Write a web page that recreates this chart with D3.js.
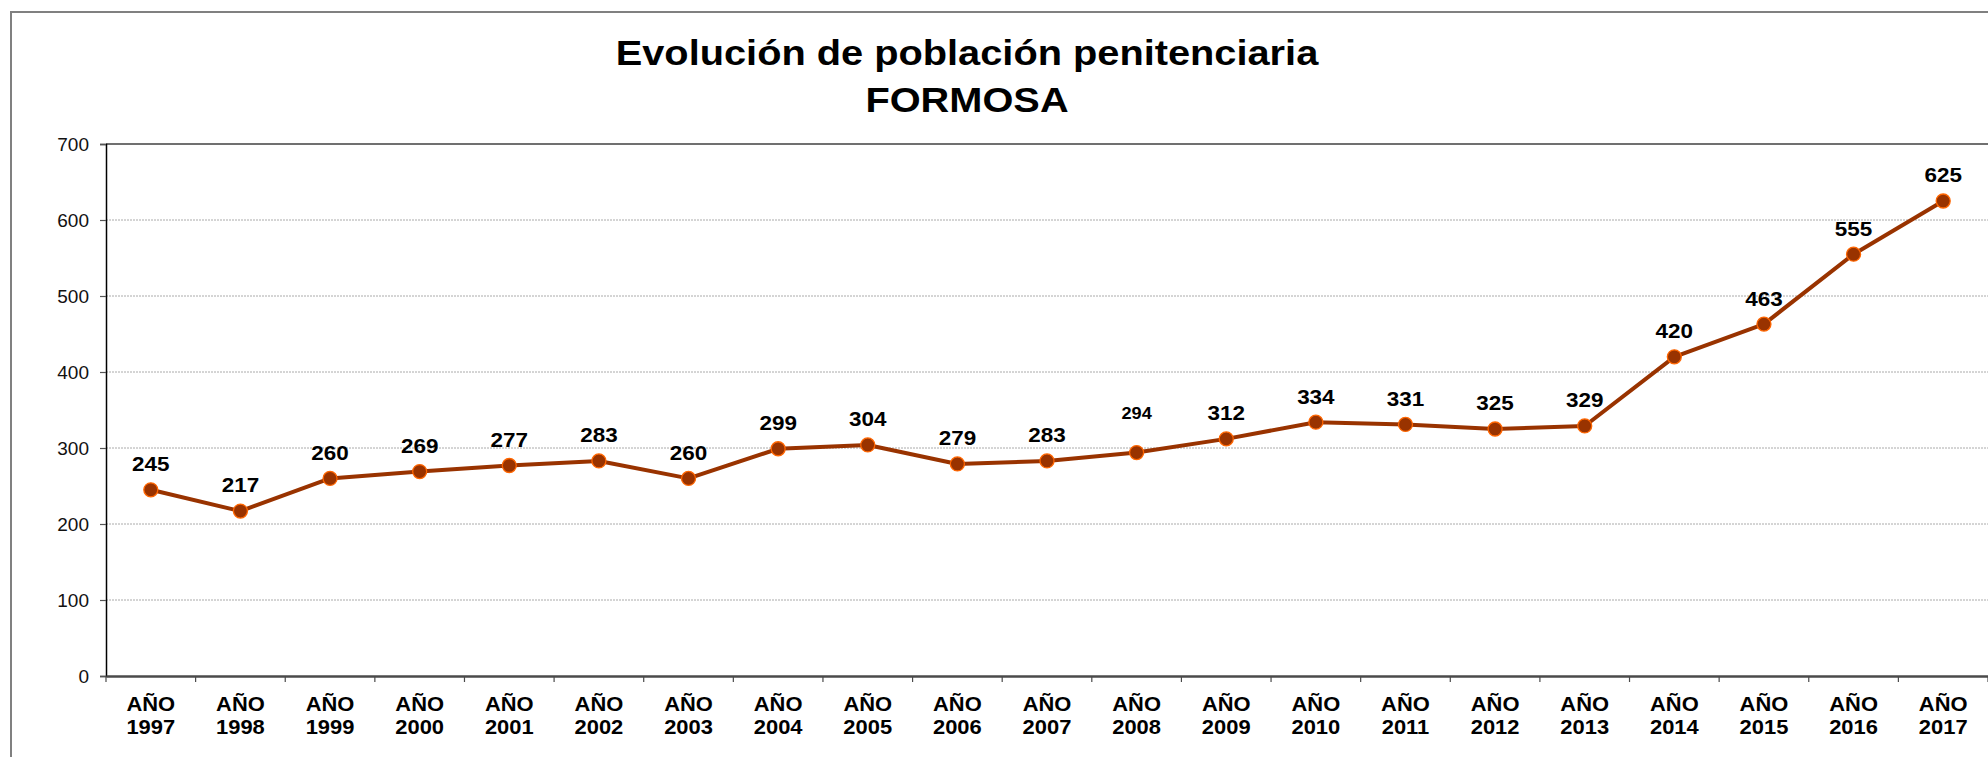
<!DOCTYPE html>
<html>
<head>
<meta charset="utf-8">
<script src="https://cdn.jsdelivr.net/npm/d3@7/dist/d3.min.js"></script>
<style>
  html, body { margin: 0; padding: 0; background: #ffffff; }
  svg { display: block; }
  text { font-family: "Liberation Sans", Arial, Helvetica, sans-serif; }
</style>
</head>
<body>
<svg id="chart" width="1988" height="757"></svg>
<script>
// Prison population, Formosa province, 1997-2017
const years = ["1997","1998","1999","2000","2001","2002","2003","2004","2005","2006","2007",
               "2008","2009","2010","2011","2012","2013","2014","2015","2016","2017"];
const population = [245, 217, 260, 269, 277, 283, 260, 299, 304, 279, 283,
                    294, 312, 334, 331, 325, 329, 420, 463, 555, 625];
const yTicks = [0, 100, 200, 300, 400, 500, 600, 700];
const titleLines = ["Evolución de población penitenciaria", "FORMOSA"];
const yearPrefix = "AÑO";

const svg = d3.select("#chart");
const W = 1988, H = 757;
const plot = { left: 106, right: 1988, top: 144, bottom: 676 };

// bold text in this chart is drawn slightly wide
const wide = (sel, px, py, sx) =>
  sel.attr("transform", (d, i) => `translate(${px(d, i)},${py(d, i)}) scale(${sx},1)`);

// outer chart frame
svg.append("rect")
  .attr("x", 11).attr("y", 12)
  .attr("width", W + 20).attr("height", H + 20)
  .attr("fill", "#ffffff")
  .attr("stroke", "#808080").attr("stroke-width", 2);

// title
svg.append("g").selectAll("text")
  .data(titleLines)
  .join("text")
  .attr("text-anchor", "middle")
  .attr("font-size", 35.5).attr("font-weight", "bold").attr("fill", "#000")
  .call(wide, () => 967, (d, i) => 65 + i * 47, 1.12)
  .text(d => d);

const x = d3.scaleBand().domain(years).range([plot.left, plot.right]).padding(0);
const y = d3.scaleLinear().domain([0, 700]).range([plot.bottom, plot.top]);

// horizontal gridlines
svg.append("g").selectAll("line")
  .data(yTicks.filter(t => t > 0 && t < 700))
  .join("line")
  .attr("x1", plot.left).attr("x2", plot.right + 5)
  .attr("y1", d => y(d)).attr("y2", d => y(d))
  .attr("stroke", "#aaaaaa").attr("stroke-width", 1)
  .attr("stroke-dasharray", "2,1");

// plot area top border
svg.append("line")
  .attr("x1", plot.left).attr("x2", plot.right + 5)
  .attr("y1", y(700)).attr("y2", y(700))
  .attr("stroke", "#707070").attr("stroke-width", 2);

// y axis
const yAxis = svg.append("g")
  .attr("transform", `translate(${plot.left},0)`)
  .call(d3.axisLeft(y).tickValues(yTicks).tickSize(6).tickPadding(11));
yAxis.select(".domain").attr("stroke", "#000").attr("stroke-width", 1.5);
yAxis.selectAll(".tick line").attr("stroke", "#555").attr("stroke-width", 1.2);
yAxis.selectAll(".tick text")
  .attr("font-size", 19).attr("fill", "#111")
  .attr("font-family", "'Liberation Sans', Arial, sans-serif");

// x axis
const xAxis = svg.append("g")
  .attr("transform", `translate(0,${plot.bottom})`)
  .call(d3.axisBottom(x).tickSize(0).tickFormat(""));
xAxis.select(".domain").attr("stroke", "#4a4a4a").attr("stroke-width", 2.5);
xAxis.selectAll(".tick text").remove();

// x tick marks on category boundaries
const bounds = years.map(d => x(d)).concat([x(years[years.length - 1]) + x.bandwidth()]);
svg.append("g").selectAll("line")
  .data(bounds)
  .join("line")
  .attr("x1", d => d).attr("x2", d => d)
  .attr("y1", plot.bottom).attr("y2", plot.bottom + 6)
  .attr("stroke", "#4a4a4a").attr("stroke-width", 1.2);

// x category labels (two lines)
const xl = svg.append("g").selectAll("g")
  .data(years)
  .join("text")
  .attr("text-anchor", "middle")
  .attr("font-size", 20.5).attr("font-weight", "bold").attr("fill", "#000")
  .call(wide, d => x(d) + x.bandwidth() / 2, () => 711, 1.07);
xl.append("tspan").attr("x", 0).attr("y", 0).text(yearPrefix);
xl.append("tspan").attr("x", 0).attr("y", 23).text(d => d);

const series = years.map((yr, i) => ({ yr, v: population[i] }));
const cx = d => x(d.yr) + x.bandwidth() / 2;

// line
svg.append("path")
  .datum(series)
  .attr("fill", "none")
  .attr("stroke", "#993300").attr("stroke-width", 4)
  .attr("stroke-linejoin", "round")
  .attr("d", d3.line().x(cx).y(d => y(d.v)));

// markers
svg.append("g").selectAll("circle")
  .data(series)
  .join("circle")
  .attr("cx", cx).attr("cy", d => y(d.v))
  .attr("r", 7)
  .attr("fill", "#993300")
  .attr("stroke", "#ff6600").attr("stroke-width", 1.3);

// value labels
svg.append("g").selectAll("text")
  .data(series)
  .join("text")
  .attr("text-anchor", "middle")
  .attr("font-size", d => d.yr === "2008" ? 17 : 21)
  .attr("font-weight", "bold").attr("fill", "#000")
  .call(wide, cx, d => y(d.v) - (d.yr === "2008" ? 34 : 18.6), 1.07)
  .text(d => d.v);
</script>
</body>
</html>
